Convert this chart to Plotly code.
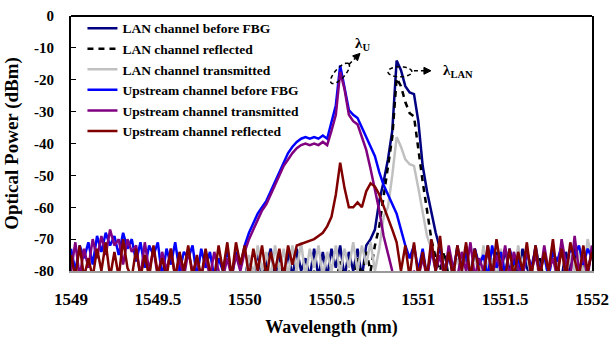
import math
import plotly.graph_objects as go

# ---- data (wavelength grid: 1549 nm start, 0.025 nm step) ----
WL_START = 1549.0
WL_STEP = 0.025

# Upstream channel before FBG (1549.000 .. 1552.000)
up_before = [
    -73, -80, -72, -76, -71, -78, -69, -74, -68, -72,
    -69, -75, -68, -73, -70, -77, -71, -79, -72, -75,
    -71, -82, -73, -78, -71, -80, -74, -76, -72, -82,
    -73, -79, -74, -82, -76, -80, -73, -82, -74, -79,
    -72, -68, -65, -62, -60, -58, -55, -52, -49, -46,
    -43, -41, -39.5, -38.5, -38, -38.5, -38, -38.5, -37.5, -38.5,
    -33, -28, -15.5, -23, -29.5, -31, -32, -35, -38, -41,
    -44, -49, -53, -56, -59, -62, -67, -72, -76, -72,
    -80, -73, -82, -74, -78, -72, -82, -75, -80, -73,
    -79, -74, -82, -73, -78, -75, -82, -72, -79, -74,
    -81, -73, -78, -76, -82, -74, -79, -73, -80, -75,
    -82, -74, -77, -72, -79, -73, -75, -72, -78, -73,
    -76,
]

# Upstream channel transmitted (1549.000 .. 1552.000)
up_trans = [
    -80, -71, -82, -73, -79, -70, -76, -69, -75, -67,
    -72, -70, -78, -70, -74, -72, -82, -71, -80, -73,
    -82, -74, -80, -73, -82, -76, -82, -74, -80, -77,
    -82, -75, -82, -74, -80, -82, -76, -82, -75, -80,
    -74, -70, -67, -64, -61, -59, -56, -53, -50, -47,
    -45, -43, -41.5, -40.5, -40, -40.5, -40, -40.5, -39.5, -40.5,
    -36, -31, -17.5, -23, -31, -33, -34, -38, -42, -48,
    -54, -61, -69, -75, -80, -85, -84, -82, -84, -80,
    -82, -76, -82, -73, -80, -75, -82, -72, -79, -82,
    -74, -80, -71, -82, -76, -80, -73, -82, -75, -80,
    -72, -82, -74, -79, -82, -73, -80, -75, -82, -72,
    -80, -76, -82, -70, -78, -82, -69, -80, -75, -82,
    -72,
]

# Upstream channel reflected (1549.000 .. 1552.000)
up_refl = [
    -75, -82, -72, -82, -76, -82, -73, -80, -71, -82,
    -74, -82, -70, -79, -82, -73, -82, -75, -82, -72,
    -81, -76, -82, -73, -82, -74, -80, -72, -82, -75,
    -82, -73, -80, -82, -72, -80, -71, -82, -71, -78,
    -72, -82, -73, -80, -72, -82, -74, -80, -73, -82,
    -72, -78, -72, -71.5, -71, -70.5, -70, -69, -68, -66,
    -63, -56, -46, -54, -60, -60, -58.5, -60, -55, -52.5,
    -53.5, -56, -59.5, -63, -67, -71, -80, -72, -82, -71,
    -82, -74, -82, -70, -80, -69, -82, -74, -82, -72,
    -80, -71, -82, -73, -80, -82, -72, -82, -70, -79,
    -82, -73, -82, -74, -80, -71, -82, -72, -82, -74,
    -80, -70, -82, -73, -82, -71, -76, -82, -72, -80,
    -74,
]

# LAN channel traces start at 1550.000 (grid index 40)
LAN_START_INDEX = 40

lan_before = [
    -82, -76, -82, -74, -82, -78, -73, -82, -75, -82,
    -74, -82, -73, -80, -76, -82, -73, -82, -74, -82,
    -73, -79, -72, -82, -74, -80, -73, -82, -72, -70,
    -67, -58, -52, -45, -36, -14, -17, -22, -24, -24.5,
    -33, -47, -55, -62, -68, -73, -80, -74, -82, -72,
    -80, -75, -82, -73, -79, -82, -72, -80, -74, -82,
    -73, -80, -76, -82, -73, -79, -82, -72, -80, -74,
    -82, -73, -79, -82, -74, -80, -72, -82, -75, -80,
    -74,
]

lan_refl = [
    -84, -82, -84, -80, -84, -78, -84, -82, -84, -79,
    -84, -82, -80, -84, -82, -84, -80, -84, -82, -84,
    -80, -84, -77, -84, -80, -84, -76, -82, -74, -80,
    -72, -66, -57, -47, -38, -19.5, -22, -27, -30.5, -31.5,
    -42, -52, -61, -70, -76, -80, -74, -82, -78, -84,
    -80, -84, -79, -84, -82, -84, -78, -84, -80, -84,
    -82, -84, -78, -84, -82, -84, -80, -84, -76, -84,
    -82, -84, -78, -84, -80, -84, -82, -84, -78, -84,
    -80,
]

lan_trans = [
    -84, -75, -82, -72, -80, -74, -82, -72, -80, -73,
    -82, -72, -80, -71, -82, -73, -79, -72, -82, -74,
    -80, -72, -81, -73, -79, -71, -80, -72, -78, -71,
    -80, -73, -63, -60, -50, -38, -41, -45, -46.5, -47,
    -54, -62, -69, -73, -80, -70, -82, -74, -80, -76,
    -82, -72, -80, -75, -82, -72, -80, -76, -82, -73,
    -80, -74, -82, -72, -80, -75, -82, -73, -80, -76,
    -82, -74, -80, -72, -82, -75, -80, -73, -82, -70,
    -76,
]

series_names = [
    "LAN channel before FBG",
    "LAN channel reflected",
    "LAN channel transmitted",
    "Upstream channel before FBG",
    "Upstream channel transmitted",
    "Upstream channel reflected",
]

x_tick_vals = [1549, 1549.5, 1550, 1550.5, 1551, 1551.5, 1552]
x_tick_text = ["1549", "1549.5", "1550", "1550.5", "1551", "1551.5", "1552"]
y_tick_vals = [0, -10, -20, -30, -40, -50, -60, -70, -80]
y_tick_text = ["0", "-10", "-20", "-30", "-40", "-50", "-60", "-70", "-80"]


def wl(start_index, n):
    return [round(WL_START + WL_STEP * (start_index + k), 4) for k in range(n)]


SERIF = "Liberation Serif"
BOLD = dict(family=SERIF, color="black", weight="bold")
LEG_FONT = dict(family=SERIF, color="black", weight="bold", size=13.5)

styles = [
    dict(color="#000080", width=2.5),
    dict(color="#000000", width=2.5, dash="6px,5px"),
    dict(color="#C0C0C0", width=2.5),
    dict(color="#0000FF", width=2.5),
    dict(color="#800080", width=2.5),
    dict(color="#800000", width=2.5),
]

traces_y = [lan_before, lan_refl, lan_trans, up_before, up_trans, up_refl]
starts = [LAN_START_INDEX] * 3 + [0] * 3

fig = go.Figure()
for name, ys, st, sty in zip(series_names, traces_y, starts, styles):
    fig.add_trace(go.Scatter(x=wl(st, len(ys)), y=ys, mode="lines", name=name,
                             line=sty, hoverinfo="skip"))

# ---- annotation helpers (pixel-size shapes converted into data units) ----
X0, X1, Y0, Y1 = 1549, 1552, -80, 0
L, R, T, B = 71, 19, 16, 67
W, H = 611, 338
pw, ph = W - L - R, H - T - B
ux = (X1 - X0) / pw   # nm per pixel
uy = (Y1 - Y0) / ph   # dB per pixel


def ellipse_path(cx, cy, a_px, b_px, ang_deg, n=40):
    ang = math.radians(ang_deg)
    pts = []
    for k in range(n + 1):
        t = 2 * math.pi * k / n
        dx = a_px * math.cos(t) * math.cos(ang) - b_px * math.sin(t) * math.sin(ang)
        dy = a_px * math.cos(t) * math.sin(ang) + b_px * math.sin(t) * math.cos(ang)
        pts.append((cx + dx * ux, cy + dy * uy))
    return "M " + " L ".join(f"{p[0]:.5f},{p[1]:.4f}" for p in pts) + " Z"


def arrow_head(tx, ty, ang_deg, size=7, half=3.5):
    """filled triangle with its tip at (tx, ty), pointing along ang_deg (pixel space, y up)"""
    a = math.radians(ang_deg)
    bx, by = -math.cos(a) * size, -math.sin(a) * size
    px_, py_ = -math.sin(a) * half, math.cos(a) * half
    p1 = (tx + (bx + px_) * ux, ty + (by + py_) * uy)
    p2 = (tx + (bx - px_) * ux, ty + (by - py_) * uy)
    return f"M {tx:.5f},{ty:.4f} L {p1[0]:.5f},{p1[1]:.4f} L {p2[0]:.5f},{p2[1]:.4f} Z"


dash_line = dict(color="black", width=1.5, dash="4px,3px")

# lambda_U marker
UX, UY = 1550.549, -18.0
fig.add_shape(type="path", path=ellipse_path(UX, UY, 13, 5, 48), line=dash_line)
fig.add_shape(type="line", x0=UX + 9 * ux, y0=UY + 9 * uy,
              x1=UX + 15 * ux, y1=UY + 15 * uy, line=dash_line)
fig.add_shape(type="path", path=arrow_head(UX + 20 * ux, UY + 20 * uy, 45),
              line=dict(color="black", width=1), fillcolor="black")
fig.add_annotation(x=UX + 22 * ux, y=UY + 29 * uy, showarrow=False,
                   text="λ<sub>U</sub>", font=dict(size=15, **BOLD))

# lambda_LAN marker
LX, LY = 1550.894, -17.5
fig.add_shape(type="path", path=ellipse_path(LX, LY, 12, 5, 0), line=dash_line)
fig.add_shape(type="line", x0=LX + 14 * ux, y0=LY + 1 * uy,
              x1=LX + 25 * ux, y1=LY + 1 * uy, line=dash_line)
fig.add_shape(type="path", path=arrow_head(LX + 31 * ux, LY + 1 * uy, 0),
              line=dict(color="black", width=1), fillcolor="black")
fig.add_annotation(x=LX + 41 * ux, y=LY + 1 * uy, xanchor="left", showarrow=False,
                   text="λ<sub>LAN</sub>", font=dict(size=15, **BOLD))

# top frame line
fig.add_shape(type="line", xref="paper", yref="paper", x0=0, x1=1, y0=1, y1=1,
              line=dict(color="black", width=2))

fig.update_layout(
    width=W, height=H,
    margin=dict(l=L, r=R, t=T, b=B, autoexpand=False),
    paper_bgcolor="white", plot_bgcolor="white",
    font=dict(family=SERIF, color="black"),
    showlegend=True,
    legend=dict(x=0.022, y=1.012, xanchor="left", yanchor="top",
                bgcolor="rgba(0,0,0,0)", borderwidth=0,
                font=LEG_FONT, tracegroupgap=0, itemwidth=30),
    xaxis=dict(range=[X0, X1], tickvals=x_tick_vals, ticktext=x_tick_text,
               showgrid=False, zeroline=False, showline=True, automargin=False,
               linecolor="#9a9a9a", linewidth=2, ticks="",
               ticklabelstandoff=12,
               tickfont=dict(size=17, **BOLD),
               title=dict(text="Wavelength (nm)", font=dict(size=18, **BOLD),
                          standoff=13)),
    yaxis=dict(range=[Y0, Y1], tickvals=y_tick_vals, ticktext=y_tick_text,
               showgrid=False, zeroline=False, showline=True, mirror=True,
               automargin=False,
               linecolor="black", linewidth=2, ticks="inside", ticklen=5,
               tickcolor="black", ticklabelstandoff=12,
               tickfont=dict(size=15, **BOLD),
               title=dict(text="Optical Power (dBm)", font=dict(size=19, **BOLD),
                          standoff=10)),
)

fig.write_html("out.html", config={"displayModeBar": False},
               post_script="document.body.style.margin='0px';document.body.style.padding='0px';")
